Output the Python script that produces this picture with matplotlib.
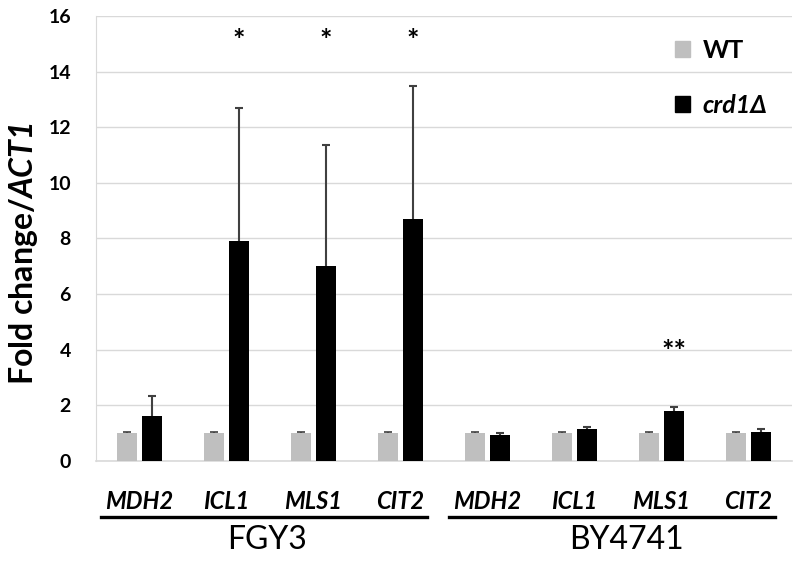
import numpy as np
import matplotlib
matplotlib.use("Agg")
import matplotlib.pyplot as plt
from matplotlib.patches import Patch

plt.rcParams['font.family'] = ['Lato', 'DejaVu Sans']
plt.rcParams['mathtext.fontset'] = 'custom'
plt.rcParams['mathtext.rm'] = 'Lato:bold'
plt.rcParams['mathtext.bfit'] = 'Lato:bold:italic'

genes = ['MDH2', 'ICL1', 'MLS1', 'CIT2', 'MDH2', 'ICL1', 'MLS1', 'CIT2']
strains = ['FGY3', 'BY4741']
strain_x = [1.47, 5.6]
wt = [1.0, 1.0, 1.0, 1.0, 1.0, 1.0, 1.0, 1.0]
wt_err = [0.02, 0.02, 0.02, 0.02, 0.02, 0.02, 0.02, 0.02]
crd1 = [1.6, 7.9, 7.0, 8.7, 0.92, 1.15, 1.8, 1.02]
crd1_err = [0.72, 4.8, 4.35, 4.8, 0.08, 0.07, 0.13, 0.13]
stars = ['', '*', '*', '*', '', '', '**', '']
star_y = [0, 15.1, 15.1, 15.1, 0, 0, 3.9, 0]

x = np.arange(len(genes))
w = 0.23
off = 0.145

fig = plt.figure(figsize=(8, 5.62), dpi=100)
ax = fig.add_axes([0.12, 0.18, 0.87, 0.7915])

ax.bar(x - off, wt, w, color='#bfbfbf', zorder=3)
ax.bar(x + off, crd1, w, color='black', zorder=3)
# errorbars sit under the bars so only the upper half shows
ax.errorbar(x - off, wt, yerr=wt_err, fmt='none', ecolor='#404040',
            elinewidth=1.2, capsize=3, capthick=1.2, zorder=2.5)
ax.errorbar(x + off, crd1, yerr=crd1_err, fmt='none', ecolor='#404040',
            elinewidth=1.5, capsize=3, capthick=1.5, zorder=2.5)

for i, s in enumerate(stars):
    if s:
        ax.text(x[i] + off, star_y[i], s, ha='center', va='center',
                fontsize=21, fontweight='bold')

ax.set_ylim(0, 16)
ax.set_xlim(-0.5, len(genes) - 0.5)
ax.set_yticks(np.arange(0, 17, 2))
ax.grid(axis='y', color='#d9d9d9', linewidth=1, zorder=0)
ax.tick_params(length=0)
for sp in ['top', 'right']:
    ax.spines[sp].set_visible(False)
ax.spines['left'].set_color('#d9d9d9')
ax.spines['bottom'].set_color('#d9d9d9')
ax.spines['bottom'].set_linewidth(1.2)
for t in ax.get_yticklabels():
    t.set_fontweight('bold')
    t.set_fontsize(14)
ax.tick_params(axis='y', pad=18)

ax.set_xticks(x)
ax.set_xticklabels(genes, fontsize=17, fontweight='bold', fontstyle='italic')
ax.tick_params(axis='x', pad=21)

ax.set_ylabel(r'Fold change/$\mathbfit{ACT1}$', fontsize=23, fontweight='bold')
ax.yaxis.set_label_coords(-0.08, 0.465)

trans = ax.get_xaxis_transform()
for k, name in enumerate(strains):
    i0, i1 = 4 * k, 4 * k + 3
    ax.plot([i0 - 0.44, i1 + 0.3], [-0.126, -0.126], color='black', lw=2.4,
            transform=trans, clip_on=False)
    ax.text(strain_x[k], -0.178, name, transform=trans, ha='center',
            va='center', fontsize=23)

handles = [Patch(color='#bfbfbf'), Patch(color='black')]
leg = ax.legend(handles, ['WT', 'crd1Δ'], loc='upper left',
                bbox_to_anchor=(0.8, 1.0), frameon=False, fontsize=18,
                handlelength=0.6, handleheight=0.6, handletextpad=0.5,
                labelspacing=1.3)
for t in leg.get_texts():
    t.set_fontweight('bold')
leg.get_texts()[1].set_fontstyle('italic')

fig.savefig('out.png', dpi=100)
